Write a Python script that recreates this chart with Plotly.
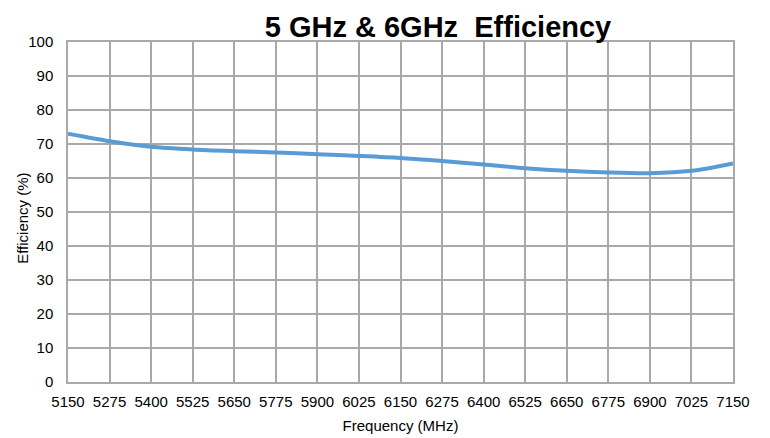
import plotly.graph_objects as go

freq_mhz = [5150, 5275, 5400, 5525, 5650, 5775, 5900, 6025, 6150, 6275,
            6400, 6525, 6650, 6775, 6900, 7025, 7150]
efficiency = [73.0, 70.8, 69.2, 68.4, 67.9, 67.5, 67.0, 66.5, 65.9, 65.0,
              64.0, 62.9, 62.1, 61.6, 61.4, 62.1, 64.3]

title_text = "5 GHz & 6GHz  Efficiency"
x_title = "Frequency (MHz)"
y_title = "Efficiency (%)"

font_family = "Liberation Sans, Arial, sans-serif"
grid_color = "#A9A9A9"

W, H = 762, 430
L, R, T, B = 60, 37, 34, 56

fig = go.Figure()
fig.add_trace(go.Scatter(
    x=freq_mhz, y=efficiency, mode="lines",
    line=dict(color="#5B9BD5", width=4, shape="spline", smoothing=0.8),
    showlegend=False, hoverinfo="x+y",
))

fig.update_layout(
    width=W, height=H,
    margin=dict(l=L, r=R, t=T, b=B, autoexpand=False),
    paper_bgcolor="white", plot_bgcolor="white",
    font=dict(family=font_family, size=15, color="#000000"),
    title=dict(text="<b>" + title_text + "</b>", x=430 / W, xref="container",
               xanchor="center", y=1 - 19 / H, yref="container", yanchor="middle",
               font=dict(family=font_family, size=29, color="#000000")),
)
fig.add_annotation(
    text=y_title, xref="paper", yref="paper",
    x=(15 - L) / (W - L - R), y=0.48, xanchor="center", yanchor="middle",
    textangle=-90, showarrow=False, font=dict(size=15, color="#000000"),
)
fig.update_xaxes(
    range=[5150, 7150], tick0=5150, dtick=125, tickmode="linear",
    showgrid=True, gridcolor=grid_color, gridwidth=1.5,
    showline=True, linecolor=grid_color, linewidth=1.5, mirror=True,
    ticks="", ticklabelstandoff=5, automargin=False,
    title=dict(text=x_title, font=dict(size=15), standoff=12),
    zeroline=False,
)
fig.update_yaxes(
    range=[0, 100], tick0=0, dtick=10, tickmode="linear",
    showgrid=True, gridcolor=grid_color, gridwidth=1.5,
    showline=True, linecolor=grid_color, linewidth=1.5, mirror=True,
    ticks="", ticklabelstandoff=10, automargin=False,
    zeroline=False,
)

fig.write_html("out.html")
